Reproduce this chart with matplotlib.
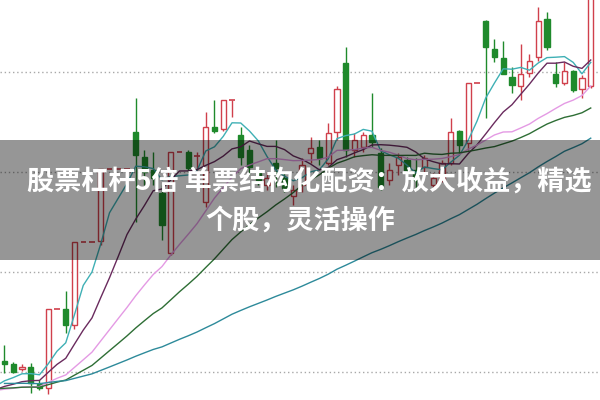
import numpy as np
import matplotlib
matplotlib.use('Agg')
import matplotlib.pyplot as plt
from matplotlib.patches import Rectangle

plt.rcParams['font.family'] = ['Noto Sans CJK SC', 'DejaVu Sans']

# daily candles (price units)
opens = [4.11, 4.08, 4.03, 4.05, 3.88, 3.84, 4.63, 4.63, 4.47, 5.30,
         5.30, 5.31, 6.03, 6.03, 6.03, 6.40, 6.15, 6.02, 5.79, 5.19,
         6.20, 6.20, 6.16, 5.70, 6.45, 6.43, 6.72, 6.37, 6.22, 6.00,
         5.87, 6.09, 5.94, 5.76, 5.87, 6.19, 6.25, 6.09, 6.40, 7.09,
         6.22, 6.25, 6.37, 6.19, 5.92, 6.07, 6.12, 6.02, 6.05, 5.87,
         5.92, 6.09, 6.41, 6.29, 6.89, 7.51, 7.23, 7.14, 6.95, 6.86,
         6.99, 7.15, 7.53, 6.98, 6.89, 7.01, 6.83, 6.86]
highs = [4.27, 4.10, 4.08, 4.09, 3.92, 4.63, 4.63, 4.81, 5.30, 5.30,
         5.30, 6.03, 6.03, 6.03, 6.03, 6.74, 6.22, 6.20, 5.87, 6.20,
         6.20, 6.22, 6.20, 6.60, 6.72, 6.72, 6.72, 6.45, 6.27, 6.04,
         6.00, 6.32, 6.00, 5.87, 6.14, 6.35, 6.32, 6.49, 6.86, 7.25,
         6.39, 6.40, 6.79, 6.24, 6.09, 6.19, 6.15, 6.14, 6.17, 5.99,
         6.12, 6.54, 6.42, 6.89, 6.89, 7.52, 7.33, 7.31, 7.05, 7.28,
         7.18, 7.65, 7.60, 7.10, 7.10, 7.02, 6.97, 7.92]
lows = [3.99, 3.99, 4.01, 3.79, 3.82, 3.78, 4.63, 4.39, 4.43, 5.30,
        5.30, 5.27, 6.03, 6.03, 6.03, 5.50, 5.87, 5.87, 5.32, 5.17,
        6.20, 6.00, 5.82, 5.65, 6.39, 6.41, 6.55, 6.07, 5.97, 5.87,
        5.82, 5.85, 5.80, 5.67, 5.80, 6.09, 6.07, 6.07, 6.32, 6.15,
        6.15, 6.20, 6.25, 5.82, 5.87, 5.97, 5.94, 5.82, 6.00, 5.82,
        5.90, 6.07, 6.19, 6.22, 6.89, 6.54, 7.10, 6.98, 6.79, 6.72,
        6.95, 7.11, 7.22, 6.85, 6.87, 6.80, 6.74, 6.84]
closes = [4.08, 4.00, 4.05, 3.89, 3.84, 4.63, 4.63, 4.47, 5.30, 5.30,
          5.30, 6.03, 6.03, 6.03, 6.03, 6.17, 6.00, 5.94, 5.47, 6.20,
          6.20, 6.04, 6.16, 6.45, 6.41, 6.72, 6.72, 6.15, 6.05, 5.92,
          5.94, 6.04, 5.84, 5.82, 6.07, 6.24, 6.14, 6.39, 6.83, 6.22,
          6.32, 6.37, 6.30, 5.85, 6.02, 6.15, 6.02, 5.92, 6.14, 5.94,
          6.09, 6.40, 6.27, 6.89, 6.89, 7.25, 7.15, 6.98, 6.87, 6.98,
          7.11, 7.51, 7.25, 6.89, 7.01, 6.82, 6.94, 7.82]

# closes before the visible window (feed the moving averages)
pre_closes = [3.98, 3.97, 3.99, 3.96, 3.95, 3.97, 3.98, 3.96, 3.94, 3.95,
              3.97, 3.96, 3.93, 3.92, 3.94, 3.95, 3.93, 3.91, 3.92, 3.94,
              3.93, 3.90, 3.89, 3.91, 3.92, 3.90, 3.88, 3.87, 3.89, 3.90,
              3.88, 3.86, 3.85, 3.87, 3.88, 3.86, 3.84, 3.83, 3.85, 3.84,
              3.82, 3.81, 3.83, 3.80, 3.79, 3.81, 3.80, 3.78, 3.79, 3.77,
              3.78, 3.80, 3.79, 3.81, 3.82, 3.84, 3.86, 3.88, 3.90]

ma_periods = [5, 10, 20, 30, 60]
ma_colors = ['#3fb0b5', '#6a2b5e', '#e49ae4', '#2e6e35', '#2d8a9a']
grid_levels = [4, 5, 6, 7]

title_1 = '股票杠杆5倍 单票结构化配资：放大收益，精选'
title_2 = '个股，灵活操作'

up_col = '#d0404c'
down_col = '#1f8a2c'

fig = plt.figure(figsize=(6, 4), dpi=100)
ax = fig.add_axes([0, 0, 1, 1])
ax.set_axis_off()

for lv in grid_levels:
    ax.axhline(lv, color='#a8a8a8', lw=1, ls=(0, (1, 2)), zorder=1)

o = np.array(opens)
h = np.array(highs)
l = np.array(lows)
c = np.array(closes)
x = np.arange(len(c))
up = c >= o
col = np.where(up, up_col, down_col)

ax.vlines(x, l, h, colors=col, lw=1, zorder=2)
flat = np.isclose(o, c)
w = 0.62
body = ~flat
ax.bar(x[body], (c - o)[body], bottom=o[body], width=w,
       facecolor=np.where(up[body], 'white', down_col),
       edgecolor=col[body], lw=1, zorder=3)
ax.hlines(c[flat], x[flat] - w / 2, x[flat] + w / 2, colors=col[flat], lw=1.2, zorder=3)

allc = np.array(pre_closes + closes)
n_pre = len(pre_closes)
for n, mc in zip(ma_periods, ma_colors):
    ma = np.convolve(allc, np.ones(n) / n, mode='valid')
    idx = np.arange(n - 1, len(allc)) - n_pre
    ax.plot(idx, ma, color=mc, lw=1, zorder=4)

ax.set_xlim(-0.514, 68.06)
ax.set_ylim(3.72, 7.72)

# caption banner
fig.add_artist(Rectangle((0, 0.35), 1, 0.30, transform=fig.transFigure,
                         facecolor='black', alpha=0.41, lw=0, zorder=10))
fig.text(0.515, 1 - 182 / 400, title_1, ha='center', va='center', color='white',
         fontsize=19.5, fontweight='bold', zorder=11)
fig.text(0.5, 1 - 221 / 400, title_2, ha='center', va='center', color='white',
         fontsize=19.5, fontweight='bold', zorder=11)

fig.savefig('out.png', dpi=100)
